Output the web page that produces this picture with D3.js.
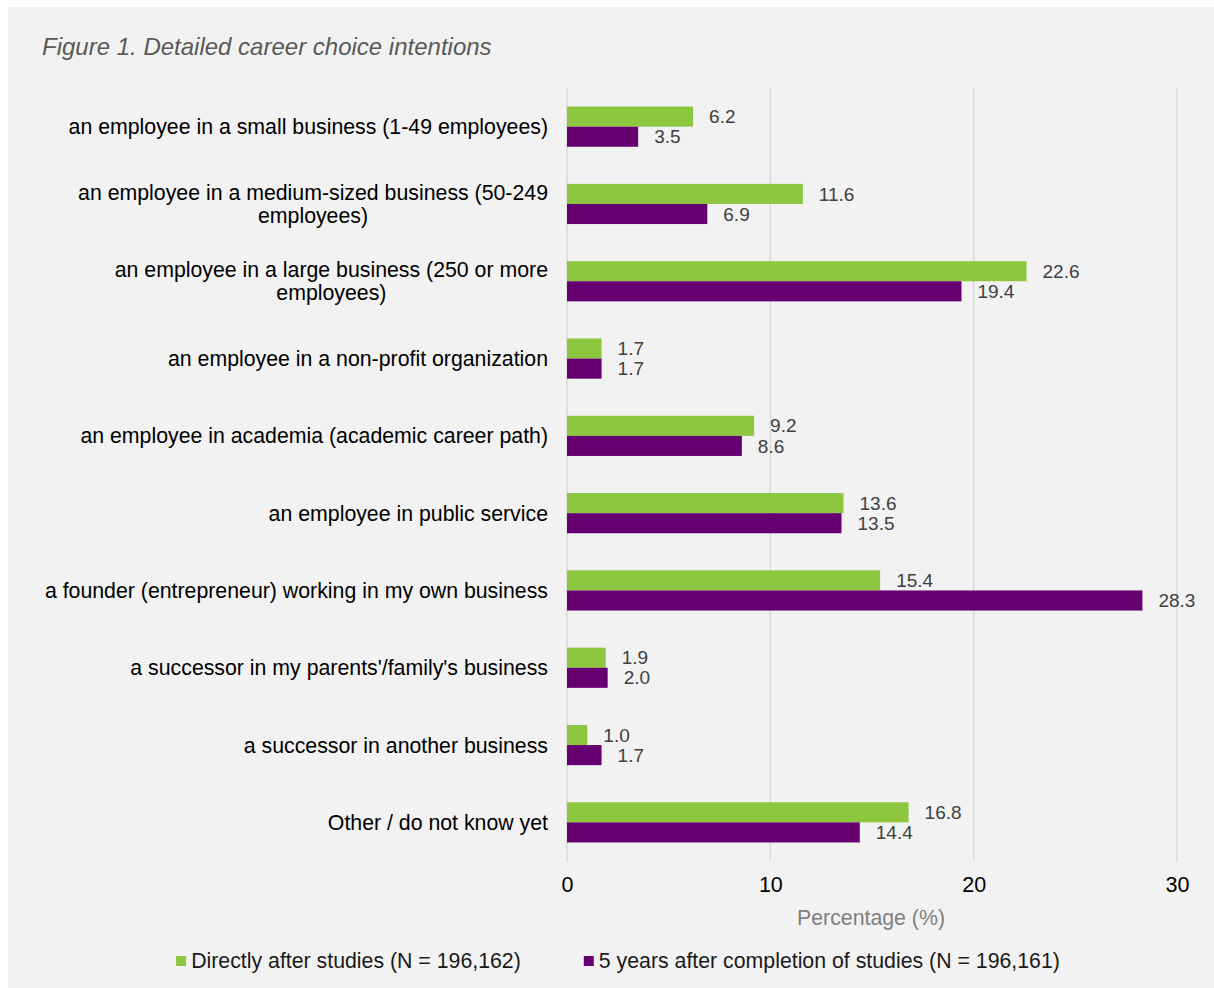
<!DOCTYPE html>
<html>
<meta charset="utf-8">
<head>
<style>
body {
    margin: 0;
    background: #fff;
    font-family: Arial, "Liberation Sans", sans-serif;
}
svg text {
    font-family: Arial, "Liberation Sans", sans-serif;
}
.grid line {
    stroke: #d9d9d9;
    stroke-width: 1.5;
}
</style>
<script src="https://d3js.org/d3.v7.min.js"></script>
</head>
<body>
<script type="text/javascript">
// categories (label lines as wrapped in the chart)
var categories = [
    ["an employee in a small business (1-49 employees)"],
    ["an employee in a medium-sized business (50-249", "employees)"],
    ["an employee in a large business (250 or more", "employees)"],
    ["an employee in a non-profit organization"],
    ["an employee in academia (academic career path)"],
    ["an employee in public service"],
    ["a founder (entrepreneur) working in my own business"],
    ["a successor in my parents'/family's business"],
    ["a successor in another business"],
    ["Other / do not know yet"]
];
var seriesNames = ["Directly after studies (N = 196,162)", "5 years after completion of studies (N = 196,161)"];
var directly = [6.2, 11.6, 22.6, 1.7, 9.2, 13.6, 15.4, 1.9, 1.0, 16.8];
var fiveYears = [3.5, 6.9, 19.4, 1.7, 8.6, 13.5, 28.3, 2.0, 1.7, 14.4];
var xTicks = [0, 10, 20, 30];
var colors = ["#8dc63f", "#660070"];

var width = 1214, height = 988;

var svg = d3.select("body").append("svg")
    .attr("width", width)
    .attr("height", height);

// panel background
svg.append("rect")
    .attr("x", 8).attr("y", 7)
    .attr("width", width - 8).attr("height", height - 7)
    .attr("fill", "#f2f2f2");

svg.append("text")
    .attr("x", 42).attr("y", 55)
    .attr("font-size", 24)
    .attr("font-style", "italic")
    .attr("fill", "#595959")
    .text("Figure 1. Detailed career choice intentions");

var x = d3.scaleLinear().domain([0, 30]).range([567, 1177]);

var idx = d3.range(categories.length);
var y0 = d3.scaleBand().domain(idx).range([88, 861])
    .paddingInner(0.48).paddingOuter(0.24);
var y1 = d3.scaleBand().domain([0, 1]).range([0, y0.bandwidth()]);

// gridlines
svg.append("g").attr("class", "grid")
    .selectAll("line")
    .data(xTicks)
  .enter().append("line")
    .attr("x1", function(d) { return x(d); })
    .attr("x2", function(d) { return x(d); })
    .attr("y1", 88).attr("y2", 861);

// x axis labels
var xAxis = d3.axisBottom(x).tickValues(xTicks).tickSize(0).tickPadding(16);
var gx = svg.append("g")
    .attr("transform", "translate(0,861)")
    .call(xAxis);
gx.select(".domain").remove();
gx.selectAll("text")
    .attr("font-size", 21.5)
    .attr("fill", "#000");

svg.append("text")
    .attr("x", (x(0) + x(30)) / 2 - 1)
    .attr("y", 925)
    .attr("text-anchor", "middle")
    .attr("font-size", 21.3)
    .attr("fill", "#7f7f7f")
    .text("Percentage (%)");

// bars
var rows = idx.map(function(i) { return [directly[i], fiveYears[i]]; });

var groups = svg.append("g").selectAll("g")
    .data(rows)
  .enter().append("g")
    .attr("transform", function(d, i) { return "translate(0," + y0(i) + ")"; });

groups.selectAll("rect")
    .data(function(d) { return d; })
  .enter().append("rect")
    .attr("x", x(0))
    .attr("y", function(d, j) { return y1(j); })
    .attr("width", function(d) { return x(d) - x(0); })
    .attr("height", y1.bandwidth())
    .attr("fill", function(d, j) { return colors[j]; });

groups.selectAll("text")
    .data(function(d) { return d; })
  .enter().append("text")
    .attr("x", function(d) { return x(d) + 16; })
    .attr("y", function(d, j) { return y1(j) + y1.bandwidth() / 2; })
    .attr("dy", "0.35em")
    .attr("font-size", 19)
    .attr("fill", "#404040")
    .text(function(d) { return d.toFixed(1); });

// category labels
var labelRight = 548;
categories.forEach(function(lines, i) {
    var cy = y0(i) + y0.bandwidth() / 2;
    var lh = 23.5;
    var top = cy - (lines.length - 1) * lh / 2;
    var first = svg.append("text")
        .attr("x", labelRight)
        .attr("y", top)
        .attr("dy", "0.35em")
        .attr("text-anchor", "end")
        .attr("font-size", 21.3)
        .attr("fill", "#000")
        .text(lines[0]);
    var w = first.node().getComputedTextLength();
    for (var k = 1; k < lines.length; k++) {
        svg.append("text")
            .attr("x", labelRight - w / 2)
            .attr("y", top + k * lh)
            .attr("dy", "0.35em")
            .attr("text-anchor", "middle")
            .attr("font-size", 21.3)
            .attr("fill", "#000")
            .text(lines[k]);
    }
});

// legend
var legend = svg.append("g");
var cursor = 0;
seriesNames.forEach(function(name, j) {
    var g = legend.append("g");
    g.append("rect")
        .attr("x", 0).attr("y", -5)
        .attr("width", 10).attr("height", 10)
        .attr("fill", colors[j]);
    var t = g.append("text")
        .attr("x", 15).attr("y", 0)
        .attr("dy", "0.35em")
        .attr("font-size", 21.3)
        .attr("fill", "#1a1a1a")
        .text(name);
    g.attr("transform", "translate(" + cursor + ",0)");
    cursor += 15 + t.node().getComputedTextLength() + 63;
});
var legendW = cursor - 63;
legend.attr("transform", "translate(" + (618 - legendW / 2) + ",961)");
</script>
</body>
</html>
